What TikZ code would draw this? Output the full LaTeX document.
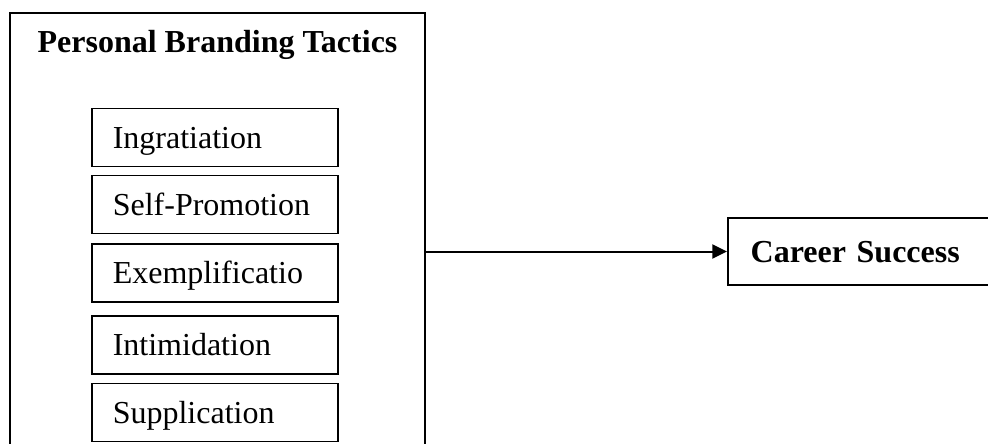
\documentclass[tikz,border=0pt]{standalone}
\usepackage{fontspec}
\setmainfont{Liberation Serif}
\usetikzlibrary{arrows.meta,positioning}
\definecolor{ink}{RGB}{0,0,0}
\tikzset{
  frame/.style={draw=ink,line width=2pt,minimum width=311.25pt,minimum height=350.25pt,inner sep=0pt},
  tactic/.style={draw=ink,line width=1.2pt,minimum width=184.5pt,minimum height=43.5pt,
    inner xsep=15.75pt,text width=153pt,align=left,text height=16pt,text depth=0pt,
    font=\fontsize{24}{28}\selectfont,anchor=west},
  outcome/.style={draw=ink,line width=1.5pt,minimum width=217.5pt,minimum height=50.25pt,
    inner xsep=17pt,text width=183.5pt,align=left,text height=16pt,text depth=0pt,
    font=\fontsize{24}{28}\selectfont\bfseries,anchor=west},
  heading/.style={text height=16pt,text depth=0pt,inner sep=0pt,font=\fontsize{24}{28}\selectfont\bfseries},
  arr/.style={-{Triangle[length=11pt,width=10.5pt]},line width=1.5pt,draw=ink},
}
\begin{document}
\begin{tikzpicture}[x=0.75pt,y=-0.75pt]
\useasboundingbox (0,0) rectangle (988,443);
% personal branding tactics and their effect on career success
\node[frame] (tactics) at (217.5,246.5) {};
\node[heading] (title) at (217.5,42.3) {Personal Branding Tactics};
\node[tactic] (ingr)   at (91,137.5) {Ingratiation};
\node[tactic] (selfp)  at (91,204.5) {Self-Promotion};
\node[tactic] (exempl) at (91,273)   {Exemplificatio};
\node[tactic] (intim)  at (91,345)   {Intimidation};
\node[tactic] (suppl)  at (91,412.5) {Supplication};
\node[outcome] (career) at (727,251.5) {Career Success};
\draw[arr] (tactics.east |- career.west) -- (career.west);
\end{tikzpicture}
\end{document}
